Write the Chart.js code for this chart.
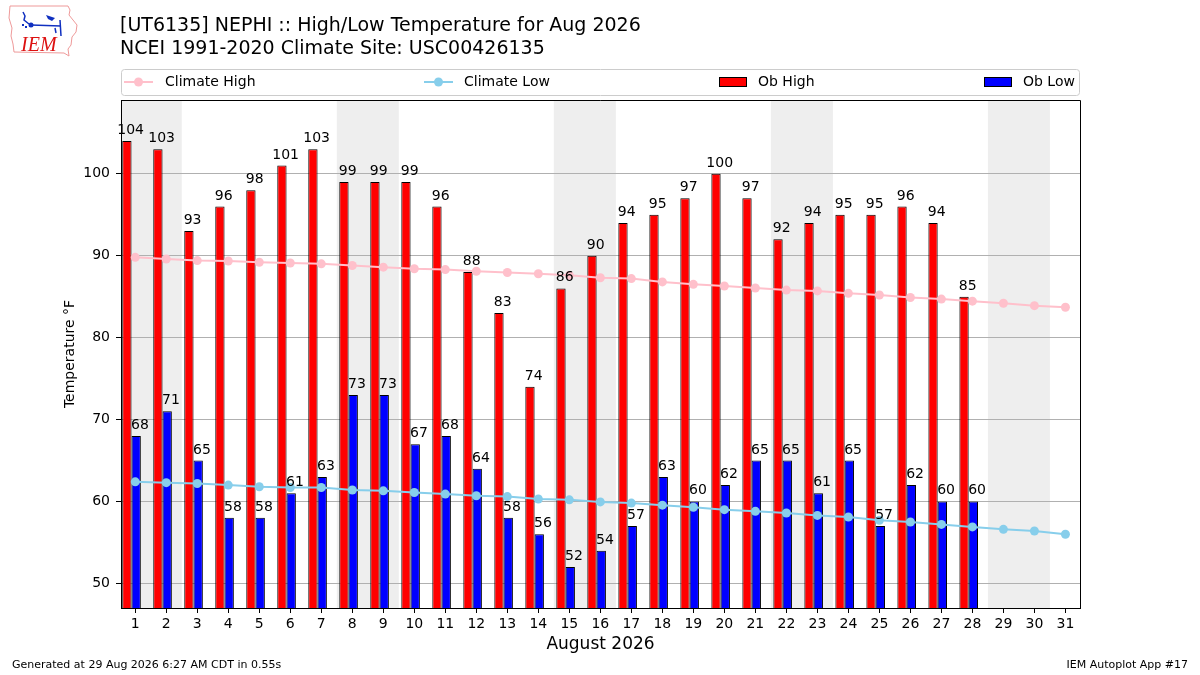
<!DOCTYPE html>
<html><head><meta charset="utf-8">
<script src="https://cdn.jsdelivr.net/npm/chart.js@4/dist/chart.umd.min.js"></script>
<style>html,body{margin:0;padding:0;background:#fff;} canvas{display:block;}</style>
</head><body>
<canvas id="c" width="1200" height="675"></canvas>
<script>
// ---------- data ----------
const days = [1,2,3,4,5,6,7,8,9,10,11,12,13,14,15,16,17,18,19,20,21,22,23,24,25,26,27,28,29,30,31];
const obDays = [1,2,3,4,5,6,7,8,9,10,11,12,13,14,15,16,17,18,19,20,21,22,23,24,25,26,27,28];
const obHigh = [104,103,93,96,98,101,103,99,99,99,96,88,83,74,86,90,94,95,97,100,97,92,94,95,95,96,94,85];
const obLow  = [68,71,65,58,58,61,63,73,73,67,68,64,58,56,52,54,57,63,60,62,65,65,61,65,57,62,60,60];
const climHigh = [89.8,89.6,89.4,89.35,89.2,89.1,89.0,88.8,88.6,88.4,88.3,88.1,87.95,87.8,87.6,87.3,87.2,86.8,86.5,86.3,86.05,85.8,85.7,85.4,85.2,84.9,84.7,84.45,84.2,83.9,83.7];
const climLow  = [62.4,62.3,62.2,62.0,61.8,61.7,61.7,61.4,61.3,61.1,60.9,60.7,60.6,60.3,60.2,59.95,59.8,59.55,59.3,59.0,58.8,58.6,58.3,58.1,57.7,57.5,57.2,56.9,56.6,56.4,56.0];
const yTicks = [50,60,70,80,90,100];
const weekendStarts = [1,8,15,22,29];
const titleLines = ['[UT6135] NEPHI :: High/Low Temperature for Aug 2026','NCEI 1991-2020 Climate Site: USC00426135'];
const xTitle = 'August 2026';
const yTitle = 'Temperature °F';
const footerLeft = 'Generated at 29 Aug 2026 6:27 AM CDT in 0.55s';
const footerRight = 'IEM Autoplot App #17';

// ---------- styling ----------
const FONT = "'DejaVu Sans', sans-serif";
Chart.defaults.font.family = FONT;
Chart.defaults.color = '#000';
const BAR_SHIFT = -0.12;
const LABEL_SHIFT = [-0.15, 0.15];

const decor = {
  id: 'decor',
  beforeDraw(chart) {
    const {ctx, chartArea: a, scales: {x}} = chart;
    ctx.save();
    ctx.fillStyle = '#eeeeee';
    weekendStarts.forEach(d => {
      const x0 = Math.max(x.getPixelForValue(d - 0.5), a.left);
      const x1 = Math.min(x.getPixelForValue(d + 1.5), a.right);
      ctx.fillRect(x0, a.top, x1 - x0, a.bottom - a.top);
    });
    ctx.restore();
  },
  afterDatasetsDraw(chart) {
    const {ctx, scales: {x}} = chart;
    ctx.save();
    ctx.font = '14px ' + FONT;
    ctx.fillStyle = '#000';
    ctx.textAlign = 'center';
    ctx.textBaseline = 'alphabetic';
    [2, 3].forEach((di, k) => {
      const meta = chart.getDatasetMeta(di);
      const vals = chart.data.datasets[di].data;
      meta.data.forEach((el, i) => {
        const lx = x.getPixelForValue(obDays[i] + LABEL_SHIFT[k]);
        ctx.fillText(String(vals[i].y), lx, el.y - 7);
      });
    });
    ctx.restore();
  },
  afterDraw(chart) {
    const {ctx, chartArea: a} = chart;
    ctx.save();
    // frame (top and right; left/bottom are the axis borders)
    ctx.strokeStyle = '#000'; ctx.lineWidth = 1;
    ctx.beginPath();
    ctx.moveTo(a.left, a.top + 0.5); ctx.lineTo(a.right + 0.5, a.top + 0.5); ctx.lineTo(a.right + 0.5, a.bottom + 1);
    ctx.stroke();
    // titles
    ctx.fillStyle = '#000';
    ctx.textAlign = 'left'; ctx.textBaseline = 'alphabetic';
    ctx.font = '19px ' + FONT;
    ctx.fillText(titleLines[0], 120, 31);
    ctx.fillText(titleLines[1], 120, 54);
    // footer
    ctx.font = '11px ' + FONT;
    ctx.textBaseline = 'middle';
    ctx.fillText(footerLeft, 12, 665);
    ctx.textAlign = 'right';
    ctx.fillText(footerRight, 1188, 665);
    // legend
    ctx.beginPath();
    ctx.roundRect(121.5, 69.5, 958, 26, 3);
    ctx.fillStyle = 'rgba(255,255,255,0.8)'; ctx.fill();
    ctx.strokeStyle = '#cccccc'; ctx.stroke();
    const ds = chart.data.datasets;
    const items = [{x0:124, tx:165}, {x0:424, tx:464}, {x0:719, tx:758}, {x0:984, tx:1023}];
    const ly = 82;
    ctx.font = '14px ' + FONT; ctx.textAlign = 'left'; ctx.textBaseline = 'middle';
    items.forEach((it, i) => {
      const d = ds[i];
      if (d.type === 'line') {
        ctx.strokeStyle = d.borderColor; ctx.lineWidth = 2;
        ctx.beginPath(); ctx.moveTo(it.x0, ly); ctx.lineTo(it.x0 + 29, ly); ctx.stroke();
        ctx.fillStyle = d.borderColor;
        ctx.beginPath(); ctx.arc(it.x0 + 14.5, ly, 4.5, 0, Math.PI * 2); ctx.fill();
      } else {
        ctx.fillStyle = d.backgroundColor; ctx.fillRect(it.x0, ly - 4.5, 28, 9);
        ctx.strokeStyle = '#000'; ctx.lineWidth = 1; ctx.strokeRect(it.x0 + 0.5, ly - 4.5, 27, 9);
      }
      ctx.fillStyle = '#000';
      ctx.fillText(d.label, it.tx, ly);
    });
    // logo
    ctx.strokeStyle = '#e99'; ctx.lineWidth = 1;
    ctx.beginPath();
    ctx.moveTo(10, 6); ctx.lineTo(68, 6); ctx.lineTo(70, 10); ctx.lineTo(69, 15); ctx.lineTo(73, 20);
    ctx.lineTo(77, 25); ctx.lineTo(76, 32); ctx.lineTo(72, 37); ctx.lineTo(71, 45); ctx.lineTo(68, 49);
    ctx.lineTo(69, 56); ctx.lineTo(64, 53); ctx.lineTo(14, 52); ctx.lineTo(13, 44); ctx.lineTo(11, 36);
    ctx.lineTo(12, 28); ctx.lineTo(9, 18); ctx.lineTo(10, 6); ctx.closePath(); ctx.stroke();
    ctx.strokeStyle = '#1030c0'; ctx.fillStyle = '#1030c0'; ctx.lineWidth = 1.5;
    ctx.beginPath(); ctx.moveTo(23, 12); ctx.lineTo(25, 16); ctx.lineTo(24, 20); ctx.lineTo(29, 24); ctx.stroke();
    ctx.beginPath(); ctx.arc(31, 25, 2.5, 0, Math.PI * 2); ctx.fill();
    ctx.beginPath(); ctx.moveTo(31, 25); ctx.lineTo(61, 26); ctx.stroke();
    ctx.beginPath(); ctx.moveTo(60, 20); ctx.lineTo(61, 36); ctx.stroke();
    ctx.beginPath(); ctx.moveTo(46, 15); ctx.lineTo(55, 18); ctx.lineTo(52, 21); ctx.lineTo(48, 19); ctx.closePath(); ctx.fill();
    ctx.beginPath(); ctx.moveTo(55, 28); ctx.lineTo(56, 33); ctx.stroke();
    ctx.fillRect(22, 24, 2, 2); ctx.fillRect(25, 26, 2, 2);
    ctx.fillStyle = '#dd1111';
    ctx.font = 'italic 20px "Liberation Serif", serif';
    ctx.textAlign = 'left'; ctx.textBaseline = 'alphabetic';
    ctx.fillText('IEM', 21, 51);
    ctx.restore();
  }
};

new Chart(document.getElementById('c'), {
  type: 'bar',
  data: {
    datasets: [
      {type: 'line', label: 'Climate High', data: days.map((d, i) => ({x: d, y: climHigh[i]})),
       borderColor: '#ffc0cb', backgroundColor: '#ffc0cb', pointBackgroundColor: '#ffc0cb', pointBorderColor: '#ffc0cb',
       borderWidth: 2, pointRadius: 4.5, pointBorderWidth: 0, tension: 0, order: 0},
      {type: 'line', label: 'Climate Low', data: days.map((d, i) => ({x: d, y: climLow[i]})),
       borderColor: '#87ceeb', backgroundColor: '#87ceeb', pointBackgroundColor: '#87ceeb', pointBorderColor: '#87ceeb',
       borderWidth: 2, pointRadius: 4.5, pointBorderWidth: 0, tension: 0, order: 0},
      {type: 'bar', label: 'Ob High', data: obDays.map((d, i) => ({x: d + BAR_SHIFT, y: obHigh[i]})),
       backgroundColor: '#ff0000', borderColor: '#000000', borderWidth: 1, borderSkipped: 'start',
       categoryPercentage: 0.6, barPercentage: 1.0, order: 1},
      {type: 'bar', label: 'Ob Low', data: obDays.map((d, i) => ({x: d + BAR_SHIFT, y: obLow[i]})),
       backgroundColor: '#0000ff', borderColor: '#000000', borderWidth: 1, borderSkipped: 'start',
       categoryPercentage: 0.6, barPercentage: 1.0, order: 1}
    ]
  },
  options: {
    responsive: false,
    animation: false,
    layout: {padding: {left: 0, right: 120, top: 100, bottom: 0}},
    plugins: {legend: {display: false}, tooltip: {enabled: false}, title: {display: false}},
    scales: {
      x: {
        type: 'linear', min: 0.54, max: 31.47, offset: false,
        afterBuildTicks: s => { s.ticks = days.map(v => ({value: v})); },
        ticks: {font: {size: 14}, color: '#000', padding: 3, autoSkip: false, maxRotation: 0,
                callback: v => String(v)},
        grid: {display: true, offset: false, drawOnChartArea: false, drawTicks: true, tickLength: 5, tickColor: '#000'},
        border: {display: true, color: '#000', width: 1},
        title: {display: true, text: xTitle, font: {size: 17}, color: '#000', padding: {top: 0, bottom: 20}},
        afterFit: s => { s.height = 67; }
      },
      y: {
        min: 47, max: 109,
        afterBuildTicks: s => { s.ticks = yTicks.map(v => ({value: v})); },
        ticks: {font: {size: 14}, color: '#000', padding: 6},
        grid: {color: '#b0b0b0', lineWidth: 1, drawTicks: true, tickLength: 5, tickColor: '#000'},
        border: {display: true, color: '#000', width: 1},
        title: {display: true, text: yTitle, font: {size: 14}, color: '#000', padding: {top: 62, bottom: 0}},
        afterFit: s => { s.width = 121; }
      }
    }
  },
  plugins: [decor]
});
</script>
</body></html>
